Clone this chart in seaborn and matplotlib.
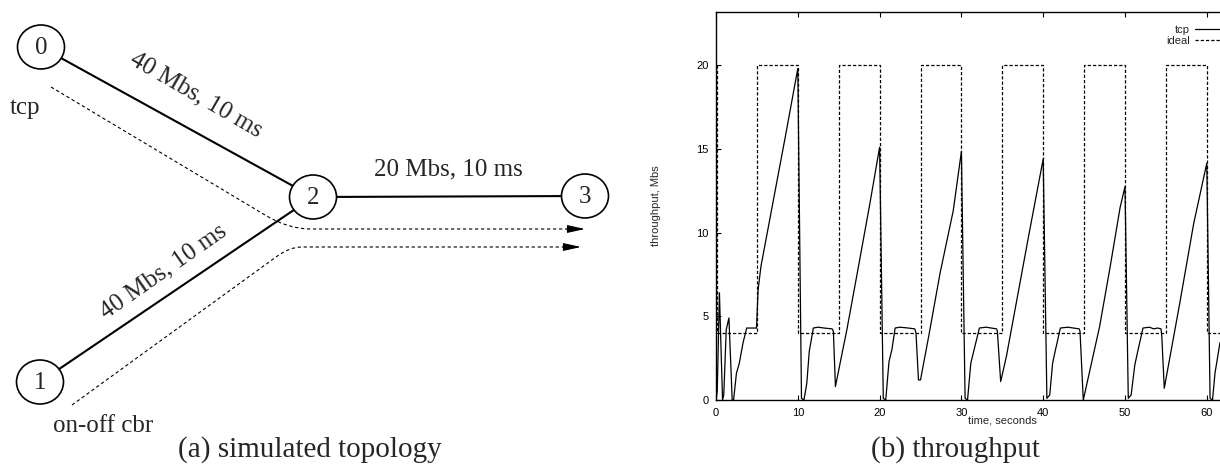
import matplotlib
matplotlib.use("Agg")
import matplotlib.pyplot as plt
import pandas as pd
import seaborn as sns
from matplotlib.path import Path
from matplotlib.patches import PathPatch, Ellipse

# ---------------- data: throughput plot ----------------
tcp_time = [0.0, 0.15, 0.42, 0.5, 0.8, 0.95, 1.25, 1.58, 1.98, 2.15, 2.5, 2.85, 3.3, 3.75, 4.3, 4.95,
            5.15, 5.5, 7.0, 8.5, 10.0,
            10.45, 10.75, 11.1, 11.4, 11.9, 12.5, 13.2, 14.2, 14.35, 14.6, 15.5, 16.0, 17.2, 18.8, 20.0,
            20.45, 20.75, 21.15, 21.5, 21.9, 22.5, 23.5, 24.3, 24.45, 24.75, 25.0, 26.0, 27.4, 29.0, 30.0,
            30.45, 30.75, 31.15, 31.5, 32.2, 33.0, 34.3, 34.4, 34.8, 35.5, 38.2, 40.0,
            40.45, 40.8, 41.15, 41.5, 42.1, 43.0, 44.4, 44.5, 44.9, 46.9, 48.2, 49.4, 50.0,
            50.4, 50.75, 51.2, 51.6, 52.2, 53.0, 53.5, 54.0, 54.4, 54.5, 54.8, 56.7, 58.4, 60.0,
            60.4, 60.7, 61.0, 61.6, 62.5, 63.5]
tcp_mbs = [0.0, 0.5, 6.4, 5.0, 0.0, 0.3, 4.2, 4.9, 0.0, 0.0, 1.6, 2.2, 3.4, 4.3, 4.3, 4.3,
           6.6, 8.0, 11.9, 15.8, 19.8,
           0.1, 0.0, 1.0, 2.9, 4.3, 4.35, 4.3, 4.25, 4.1, 0.8, 3.0, 4.2, 7.4, 11.7, 15.1,
           0.1, 0.0, 2.3, 3.0, 4.3, 4.35, 4.3, 4.25, 4.0, 1.2, 1.2, 3.8, 7.6, 11.3, 14.85,
           0.1, 0.0, 2.2, 2.9, 4.3, 4.35, 4.25, 4.1, 1.1, 2.6, 9.75, 14.4,
           0.1, 0.3, 2.2, 3.0, 4.3, 4.35, 4.25, 4.1, 0.0, 4.4, 8.0, 11.5, 12.75,
           0.1, 0.3, 2.1, 3.0, 4.3, 4.35, 4.25, 4.3, 4.25, 3.8, 0.7, 5.8, 10.55, 14.15,
           0.1, 0.0, 1.6, 3.4, 4.2, 4.3]

ideal_time = [0.1, 0.1, 5, 5, 10, 10, 15, 15, 20, 20, 25, 25, 30, 30, 35, 35,
              40, 40, 45, 45, 50, 50, 55, 55, 60, 60, 70]
ideal_mbs = [20, 4, 4, 20, 20, 4, 4, 20, 20, 4, 4, 20, 20, 4, 4, 20,
             20, 4, 4, 20, 20, 4, 4, 20, 20, 4, 4]

x_ticks = [0, 10, 20, 30, 40, 50, 60]
y_ticks = [0, 5, 10, 15, 20]
series_names = ["tcp", "ideal"]

# ---------------- data: topology diagram ----------------
node_names = ["0", "1", "2", "3"]
node_x = [41, 40, 313, 585]
node_y = [47, 382, 197, 196]
links = [(0, 2), (1, 2), (2, 3)]
link_labels = ["40 Mbs, 10 ms", "40 Mbs, 10 ms", "20 Mbs, 10 ms"]
flow_labels = ["tcp", "on-off cbr"]
captions = ["(a) simulated topology", "(b) throughput"]

# ---------------- figure ----------------
sns.set_theme(style="ticks")
plt.rcParams["font.family"] = ["Liberation Sans", "DejaVu Sans"]
W, H = 1220, 469
fig = plt.figure(figsize=(W / 100, H / 100), dpi=100)
fig.patch.set_facecolor("white")

# ---- throughput axes (extends past the right edge like the cropped original)
px_per_s = 8.18
ax = fig.add_axes([716 / W, 69 / H, 70 * px_per_s / W, 388.3 / H])
ax.set_facecolor("white")
df_tcp = pd.DataFrame({"time": tcp_time, "throughput": tcp_mbs})
df_ideal = pd.DataFrame({"time": ideal_time, "throughput": ideal_mbs})
sns.lineplot(data=df_tcp, x="time", y="throughput", ax=ax, color="black", lw=0.9,
             estimator=None, sort=False, label=series_names[0])
sns.lineplot(data=df_ideal, x="time", y="throughput", ax=ax, color="black", lw=0.9,
             linestyle=(0, (2.6, 1.6)), estimator=None, sort=False, label=series_names[1])
ax.set_xlim(0, 70)
ax.set_ylim(0, 23.2)
ax.set_xticks(x_ticks)
ax.set_yticks(y_ticks)
ax.tick_params(direction="in", length=3.6, width=0.8, top=True, right=True,
               labelsize=8, pad=5.5, colors="black")
for sp in ax.spines.values():
    sp.set_linewidth(1.0)
    sp.set_color("black")
ax.set_xlabel("time, seconds", fontsize=8)
ax.xaxis.set_label_coords(0.5, -0.041)
ax.set_ylabel("throughput, Mbs", fontsize=8, va="center")
ax.yaxis.set_label_coords((656 - 716) / (70 * px_per_s), 0.5)
handles, labels = ax.get_legend_handles_labels()
ax.legend(handles, labels, loc="upper right", bbox_to_anchor=(1228 / W, 1 - 25 / H),
          bbox_transform=fig.transFigure, frameon=False, markerfirst=False,
          handlelength=3.0, handletextpad=0.4, labelspacing=0.1, borderpad=0,
          borderaxespad=0, fontsize=8)

# ---- topology diagram axes (1 data unit = 1 pixel)
axd = fig.add_axes([0, 0, 640 / W, 1])
axd.set_xlim(0, 640)
axd.set_ylim(H, 0)
axd.axis("off")
serif = ["Liberation Serif", "DejaVu Serif"]

for a, b in links:
    axd.plot([node_x[a], node_x[b]], [node_y[a], node_y[b]], color="black", lw=1.5,
             solid_capstyle="butt", zorder=1)
for name, x, y in zip(node_names, node_x, node_y):
    axd.add_patch(Ellipse((x, y), 47, 44, facecolor="white", edgecolor="black", lw=1.2, zorder=2))
    axd.text(x, y + 1, name, ha="center", va="center", fontsize=18, family=serif, zorder=3)

# link labels
label_pos = [(196, 95, -30), (163, 272, 35), (448, 169, 0)]
for txt, (x, y, r) in zip(link_labels, label_pos):
    axd.text(x, y, txt, ha="center", va="center", rotation=r, rotation_mode="anchor",
             fontsize=18, family=serif)

# flow labels
axd.text(10, 108, flow_labels[0], ha="left", va="center", fontsize=18, family=serif)
axd.text(53, 426, flow_labels[1], ha="left", va="center", fontsize=18, family=serif)

# flow paths (dashed with arrowheads)
flows = [
    [(51, 87), (265, 215), (288, 229), (310, 229), (572, 229)],
    [(72, 405), (276, 257), (289, 247), (302, 247), (568, 247)],
]
arrow_tips = [(585, 229), (581, 247)]
codes = [Path.MOVETO, Path.LINETO, Path.CURVE3, Path.CURVE3, Path.LINETO]
for verts, tip in zip(flows, arrow_tips):
    axd.add_patch(PathPatch(Path(verts, codes), fill=False, edgecolor="black", lw=0.8,
                            linestyle=(0, (3.0, 2.4))))
    axd.annotate("", xy=tip, xytext=verts[-1],
                 arrowprops=dict(arrowstyle="-|>,head_length=0.9,head_width=0.2",
                                 color="black", lw=0.8, shrinkA=0, shrinkB=0))

# captions
fig.text(310 / W, 1 - 450 / H, captions[0], ha="center", va="center", fontsize=21, family=serif)
fig.text(955 / W, 1 - 450 / H, captions[1], ha="center", va="center", fontsize=21, family=serif)

fig.savefig("out.png", dpi=100, facecolor="white")
